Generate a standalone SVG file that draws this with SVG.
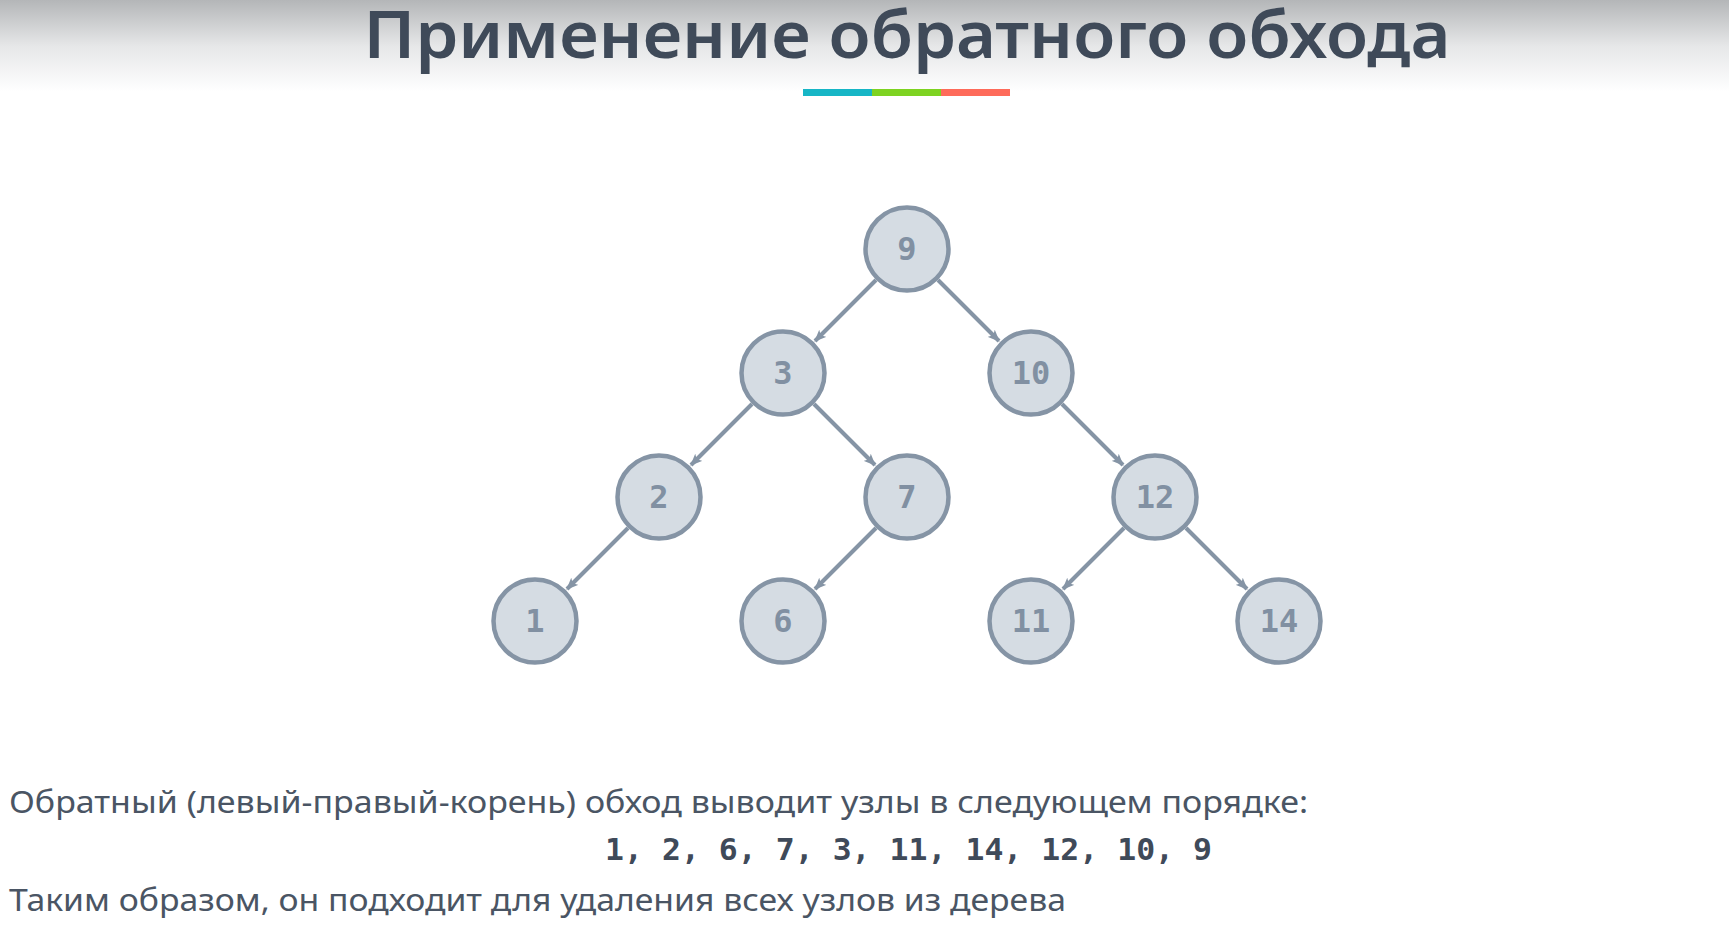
<svg xmlns="http://www.w3.org/2000/svg" width="1729" height="925" viewBox="0 0 1729 925">
<defs>
<linearGradient id="topg" x1="0" y1="0" x2="0" y2="1">
<stop offset="0" stop-color="#b4b6b8"/>
<stop offset="0.5" stop-color="#e6e7e8"/>
<stop offset="1" stop-color="#ffffff"/>
</linearGradient>
<marker id="arr" viewBox="0 0 12 10" refX="11" refY="5" markerWidth="12" markerHeight="10" markerUnits="userSpaceOnUse" orient="auto">
<path d="M0,0 L12,5 L0,10 L3,5 z" fill="#8594a5"/>
</marker>
<style>
.node circle{fill:#d5dce3;stroke:#8594a5;stroke-width:4.5}
.node text{font-family:"DejaVu Sans Mono","Liberation Mono",monospace;font-weight:bold;font-size:32px;fill:#8190a2;text-anchor:middle}
.edge{stroke:#8594a5;stroke-width:4;fill:none;marker-end:url(#arr)}
.body{font-family:"Noto Sans","Open Sans",sans-serif;font-size:31px;fill:#4a5564}
</style>
</defs>
<rect width="1729" height="925" fill="#ffffff"/>
<rect width="1729" height="92" fill="url(#topg)"/>
<text x="907" y="58" text-anchor="middle" font-family="Noto Sans, Open Sans, sans-serif" font-weight="600" font-size="65" fill="#3f4a59" textLength="1087" lengthAdjust="spacingAndGlyphs">Применение обратного обхода</text>
<rect x="803" y="89" width="69" height="7" fill="#17b6c6"/>
<rect x="872" y="89" width="69" height="7" fill="#7ed321"/>
<rect x="941" y="89" width="69" height="7" fill="#fe6b5a"/>
<g id="connectors">
<line class="edge" x1="876" y1="280" x2="815" y2="341"/>
<line class="edge" x1="938" y1="280" x2="999" y2="341"/>
<line class="edge" x1="752" y1="404" x2="691" y2="465"/>
<line class="edge" x1="814" y1="404" x2="875" y2="465"/>
<line class="edge" x1="1062" y1="404" x2="1123" y2="465"/>
<line class="edge" x1="628" y1="528" x2="567" y2="589"/>
<line class="edge" x1="876" y1="528" x2="815" y2="589"/>
<line class="edge" x1="1124" y1="528" x2="1063" y2="589"/>
<line class="edge" x1="1186" y1="528" x2="1247" y2="589"/>
</g>
<g id="n9" class="node"><circle cx="907" cy="249" r="41.5"/><text x="907" y="260">9</text></g>
<g id="n3" class="node"><circle cx="783" cy="373" r="41.5"/><text x="783" y="384">3</text></g>
<g id="n10" class="node"><circle cx="1031" cy="373" r="41.5"/><text x="1031" y="384">10</text></g>
<g id="n2" class="node"><circle cx="659" cy="497" r="41.5"/><text x="659" y="508">2</text></g>
<g id="n7" class="node"><circle cx="907" cy="497" r="41.5"/><text x="907" y="508">7</text></g>
<g id="n12" class="node"><circle cx="1155" cy="497" r="41.5"/><text x="1155" y="508">12</text></g>
<g id="n1" class="node"><circle cx="535" cy="621" r="41.5"/><text x="535" y="632">1</text></g>
<g id="n6" class="node"><circle cx="783" cy="621" r="41.5"/><text x="783" y="632">6</text></g>
<g id="n11" class="node"><circle cx="1031" cy="621" r="41.5"/><text x="1031" y="632">11</text></g>
<g id="n14" class="node"><circle cx="1279" cy="621" r="41.5"/><text x="1279" y="632">14</text></g>
<text class="body" x="9" y="813" textLength="1299" lengthAdjust="spacingAndGlyphs">Обратный (левый-правый-корень) обход выводит узлы в следующем порядке:</text>
<text x="605" y="860" font-family="DejaVu Sans Mono, Liberation Mono, monospace" font-weight="bold" font-size="30" fill="#3f4a59" textLength="607" lengthAdjust="spacingAndGlyphs">1, 2, 6, 7, 3, 11, 14, 12, 10, 9</text>
<text class="body" x="9" y="911" textLength="1057" lengthAdjust="spacingAndGlyphs">Таким образом, он подходит для удаления всех узлов из дерева</text>
</svg>
